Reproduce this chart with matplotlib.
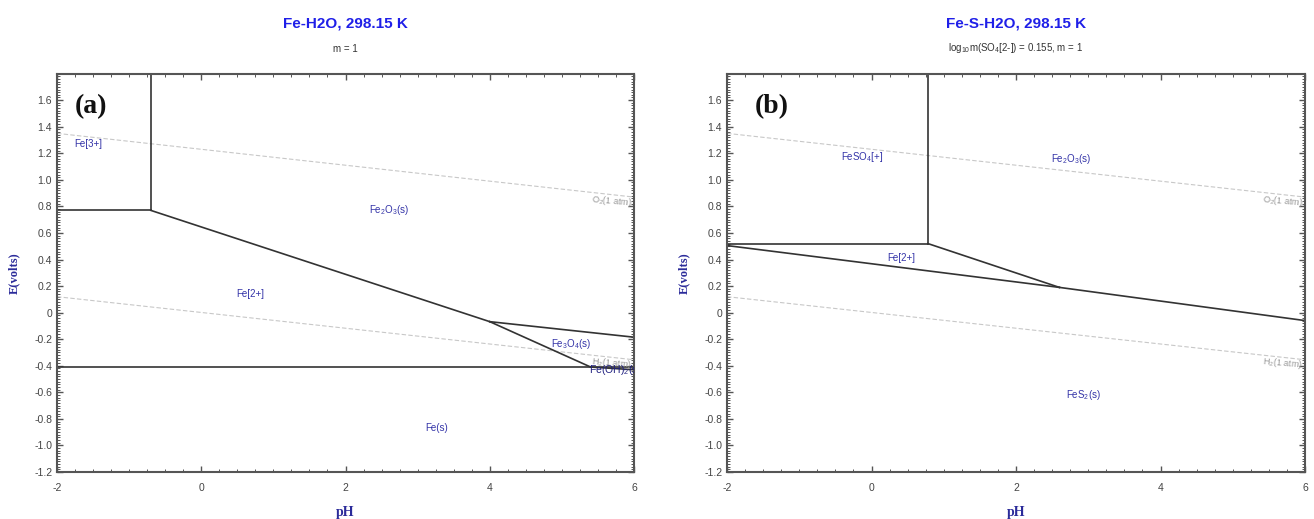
import matplotlib
matplotlib.use("Agg")
import matplotlib.pyplot as plt
from matplotlib.ticker import MultipleLocator, FixedLocator, FixedFormatter

plt.rcParams['font.family'] = ['Liberation Sans', 'DejaVu Sans']
plt.rcParams['mathtext.fontset'] = 'custom'
plt.rcParams['mathtext.rm'] = 'Liberation Sans'

# axis ticks
y_ticks = [-1.2, -1.0, -0.8, -0.6, -0.4, -0.2, 0.0, 0.2, 0.4, 0.6, 0.8, 1.0, 1.2, 1.4, 1.6]
y_tick_labels = ['-1.2', '-1.0', '-0.8', '-0.6', '-0.4', '-0.2', '0', '0.2', '0.4', '0.6',
                 '0.8', '1.0', '1.2', '1.4', '1.6']
x_ticks = [-2, 0, 2, 4, 6]
x_tick_labels = ['-2', '0', '2', '4', '6']

# water stability lines (pH, E) end points
o2_ph = [-2, 6]
o2_e = [1.35, 0.87]
h2_ph = [-2, 6]
h2_e = [0.12, -0.355]

# (a) Fe-H2O boundaries
a_bounds = [
    ([-0.70, -0.70], [0.77, 1.80]),     # Fe[3+] / Fe2O3
    ([-2.0, -0.70], [0.77, 0.77]),      # Fe[3+] / Fe[2+]
    ([-0.70, 4.00], [0.77, -0.068]),    # Fe[2+] / Fe2O3
    ([4.00, 6.00], [-0.068, -0.185]),   # Fe2O3 / Fe3O4
    ([4.00, 5.40], [-0.068, -0.41]),    # Fe[2+] / Fe3O4
    ([-2.0, 6.00], [-0.41, -0.41]),     # Fe[2+] / Fe
    ([5.40, 6.00], [-0.41, -0.43]),     # Fe3O4 / Fe(OH)2
]
a_names = ['Fe[3+]', r'Fe$_\mathregular{2}$O$_\mathregular{3}$(s)', 'Fe[2+]',
           r'Fe$_\mathregular{3}$O$_\mathregular{4}$(s)', 'Fe(s)']
a_name_ph = [-1.57, 2.6, 0.68, 5.13, 3.26]
a_name_e = [1.27, 0.77, 0.14, -0.24, -0.87]

# (b) Fe-S-H2O boundaries
b_bounds = [
    ([0.78, 0.78], [0.52, 1.80]),       # FeSO4[+] / Fe2O3
    ([-2.0, 0.78], [0.52, 0.52]),       # FeSO4[+] / Fe[2+]
    ([0.78, 2.60], [0.52, 0.19]),       # Fe[2+] / Fe2O3
    ([-2.0, 2.60], [0.505, 0.19]),      # Fe[2+] / FeS2
    ([2.60, 6.00], [0.19, -0.06]),      # Fe2O3 / FeS2
]
b_names = [r'FeSO$_\mathregular{4}$[+]', r'Fe$_\mathregular{2}$O$_\mathregular{3}$(s)', 'Fe[2+]',
           r'FeS$_\mathregular{2}$(s)']
b_name_ph = [-0.13, 2.76, 0.41, 2.93]
b_name_e = [1.17, 1.155, 0.41, -0.62]

NAME_COLOR = '#3434a8'


def setup_axes(ax):
    ax.set_xlim(-2, 6)
    ax.set_ylim(-1.2, 1.8)
    ax.xaxis.set_major_locator(FixedLocator(x_ticks))
    ax.xaxis.set_major_formatter(FixedFormatter(x_tick_labels))
    ax.yaxis.set_major_locator(FixedLocator(y_ticks))
    ax.yaxis.set_major_formatter(FixedFormatter(y_tick_labels))
    ax.xaxis.set_minor_locator(MultipleLocator(0.25))
    ax.yaxis.set_minor_locator(MultipleLocator(0.02))
    ax.tick_params(which='both', direction='in', top=True, right=True, colors='#555555',
                   labelcolor='#444444', labelsize=7.5)
    ax.tick_params(which='major', length=4, width=1)
    ax.tick_params(which='minor', length=2, width=0.7)
    ax.tick_params(axis='x', pad=8)
    for s in ax.spines.values():
        s.set_color('#555555')
        s.set_linewidth(1.5)
    ax.set_xlabel('pH', family='Liberation Serif', fontweight='bold', fontsize=10,
                  color='#2b2b9a', labelpad=9)
    ax.set_ylabel('E(volts)', family='Liberation Serif', fontweight='bold', fontsize=9,
                  color='#2b2b9a', labelpad=10)


def draw_water(ax):
    ax.plot(o2_ph, o2_e, color='#c8c8c8', lw=0.8, ls=(0, (4, 2)))
    ax.plot(h2_ph, h2_e, color='#c8c8c8', lw=0.8, ls=(0, (4, 2)))
    ax.text(5.98, o2_e[1] - 0.035, r'O$_\mathregular{2}$(1 atm)', fontsize=6.5, color='#999999',
            ha='right', va='center', rotation=-5)
    ax.text(5.98, h2_e[1] - 0.03, r'H$_\mathregular{2}$(1 atm)', fontsize=6.5, color='#999999',
            ha='right', va='center', rotation=-5)


fig = plt.figure(figsize=(13.14, 5.19), dpi=100)
ax1 = fig.add_axes([0.0434, 0.0906, 0.4391, 0.7676])
ax2 = fig.add_axes([0.5533, 0.0906, 0.4399, 0.7676])

# panel (a)
setup_axes(ax1)
draw_water(ax1)
for xs, ys in a_bounds:
    ax1.plot(xs, ys, color='#333333', lw=1.2)
for name, px, py in zip(a_names, a_name_ph, a_name_e):
    ax1.text(px, py, name, fontsize=7, color=NAME_COLOR, ha='center', va='center')
ax1.text(5.38, -0.435, r'Fe(OH)$_\mathregular{2}$(s)', fontsize=7.5, color='#202080',
         ha='left', va='center', clip_on=True)
ax1.text(-1.53, 1.55, '(a)', family='Liberation Serif', fontweight='bold', fontsize=20,
         ha='center', va='center', color='#111111')

# panel (b)
setup_axes(ax2)
draw_water(ax2)
for xs, ys in b_bounds:
    ax2.plot(xs, ys, color='#333333', lw=1.2)
for name, px, py in zip(b_names, b_name_ph, b_name_e):
    ax2.text(px, py, name, fontsize=7, color=NAME_COLOR, ha='center', va='center')
ax2.text(-1.38, 1.55, '(b)', family='Liberation Serif', fontweight='bold', fontsize=20,
         ha='center', va='center', color='#111111')

# titles
fig.text(0.263, 0.955, 'Fe-H2O, 298.15 K', fontsize=11, fontweight='bold', color='#1f1fe8',
         ha='center', va='center')
fig.text(0.263, 0.906, 'm = 1', fontsize=7, color='#333333', ha='center', va='center')
fig.text(0.773, 0.955, 'Fe-S-H2O, 298.15 K', fontsize=11, fontweight='bold', color='#1f1fe8',
         ha='center', va='center')
fig.text(0.773, 0.908, r'log$_\mathregular{10}$m(SO$_\mathregular{4}$[2-]) = 0.155, m = 1',
         fontsize=7, color='#333333', ha='center', va='center')

fig.savefig('out.png', dpi=100)
